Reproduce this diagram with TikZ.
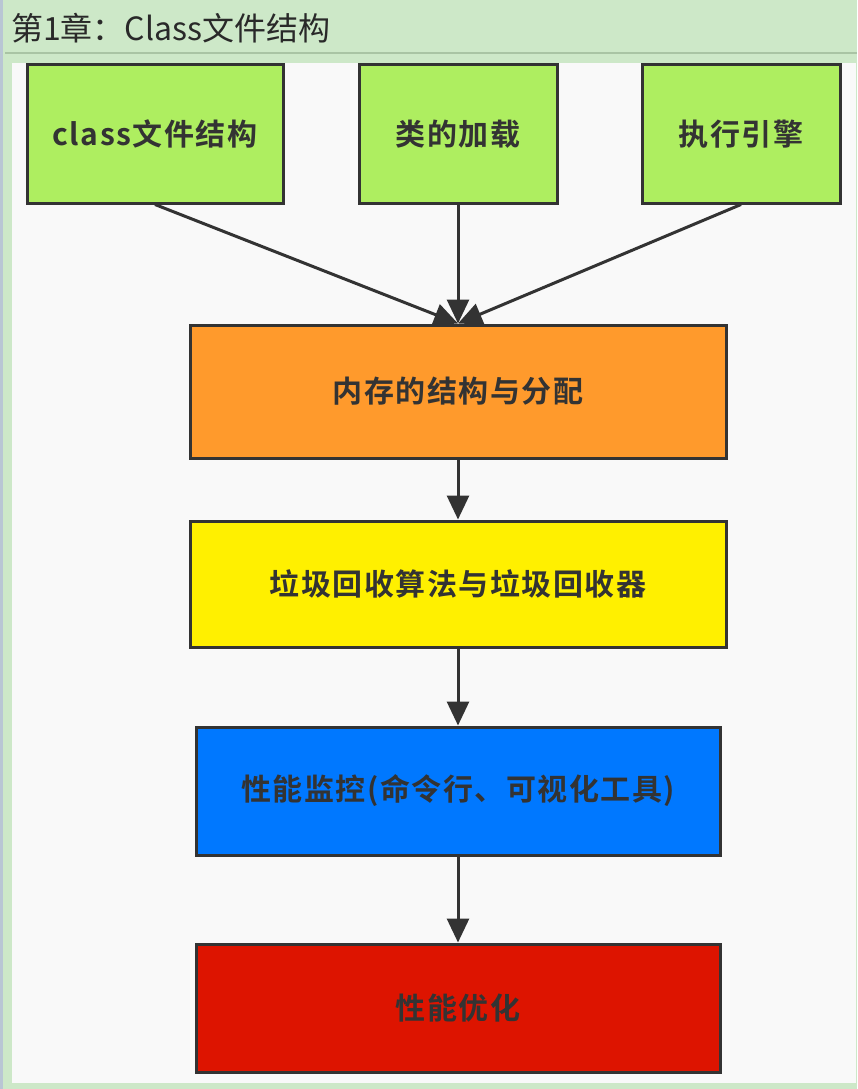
\documentclass[tikz,border=0pt]{standalone}
\usepackage{fontspec}
\newfontfamily\cjk{Noto Sans CJK SC}
\newfontfamily\cjkbold[LetterSpace=5]{Noto Sans CJK SC Bold}
\usetikzlibrary{arrows.meta}
\definecolor{pagegreen}{HTML}{CDE8C8}
\definecolor{rulegreen}{HTML}{A9C4A4}
\definecolor{edgeblue}{HTML}{B9C6D4}
\definecolor{panel}{HTML}{F9F9F9}
\definecolor{ink}{HTML}{333333}
\definecolor{boxgreen}{HTML}{AEEE60}
\definecolor{boxorange}{HTML}{FF9A2C}
\definecolor{boxyellow}{HTML}{FFF000}
\definecolor{boxblue}{HTML}{0078FF}
\definecolor{boxred}{HTML}{DD1400}
\tikzset{
  stepbox/.style={draw=ink, line width=3pt, rectangle, inner sep=0pt,
    font=\cjkbold\fontsize{30}{34}\selectfont, text=ink},
  topbox/.style={stepbox, fill=boxgreen, minimum width=256pt, minimum height=138pt},
  wide/.style={stepbox, minimum width=536pt, minimum height=133pt},
  flow/.style={draw=ink, line width=3pt, -{Triangle[length=24pt,width=22pt]}},
}
\begin{document}
\begin{tikzpicture}[x=1pt,y=-1pt]
  % page and title band
  \fill[pagegreen] (0,0) rectangle (857,1089);
  \useasboundingbox (0,0) rectangle (857,1089);
  \fill[edgeblue] (0,0) rectangle (3,1089);
  \draw[rulegreen, line width=2pt] (5,53) -- (857,53);
  \node[anchor=west, inner sep=0pt, font=\cjk\fontsize{32}{36}\selectfont, text=ink!80!black] (title) at (11,28) {第1章：Class文件结构};
  \fill[panel] (12,63) rectangle (856,1083);

  % top row
  \node[topbox] (cls) at (155,134) {class文件结构};
  \node[topbox, minimum width=198pt] (load) at (458,134) {类的加载};
  \node[topbox, minimum width=198pt] (exec) at (741,134) {执行引擎};

  % main column
  \node[wide, fill=boxorange] (mem) at (458,391.5) {内存的结构与分配};
  \node[wide, fill=boxyellow, minimum height=126pt] (gc) at (458,584) {垃圾回收算法与垃圾回收器};
  \node[wide, fill=boxblue, minimum width=524pt, minimum height=128pt] (mon) at (458,791) {性能监控(命令行、可视化工具)};
  \node[wide, fill=boxred, minimum width=524pt, minimum height=128pt] (opt) at (458,1008) {性能优化};

  % connectors
  \draw[flow] (cls.south) -- (mem.north);
  \draw[flow] (load.south) -- (mem.north);
  \draw[flow] (exec.south) -- (mem.north);
  \draw[flow] (mem) -- (gc);
  \draw[flow] (gc) -- (mon);
  \draw[flow] (mon) -- (opt);
\end{tikzpicture}
\end{document}
